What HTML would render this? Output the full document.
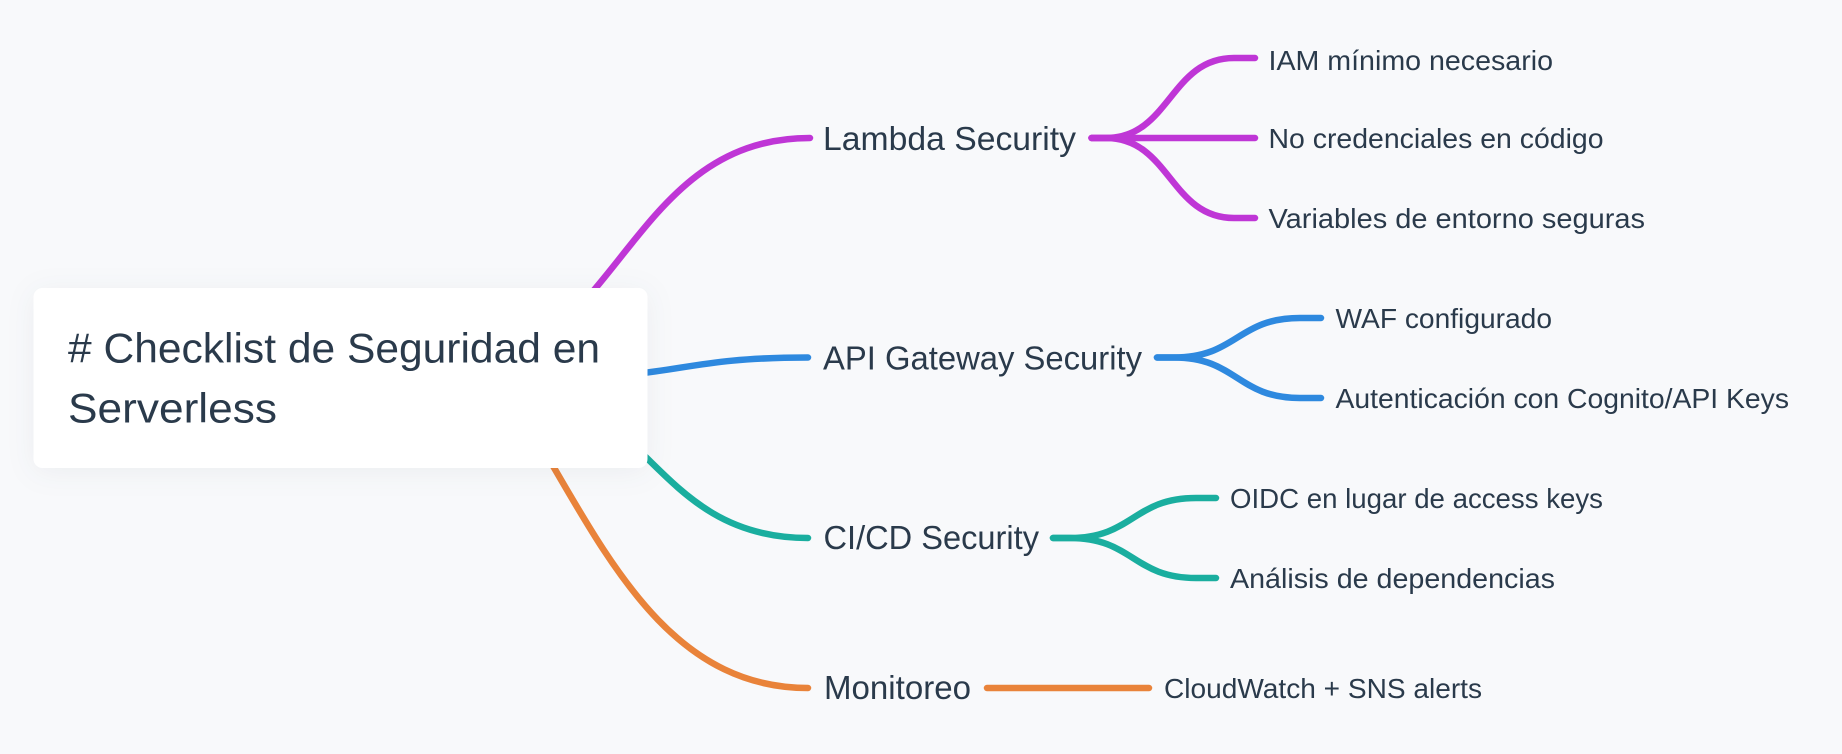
<!DOCTYPE html>
<html lang="es">
<head>
<meta charset="utf-8">
<title># Checklist de Seguridad en Serverless</title>
<style>
html,body{margin:0;padding:0;background:#f8f9fb;}
svg{display:block;}
text{font-family:"Liberation Sans","DejaVu Sans",sans-serif;fill:#2a3a4b;}
.l{fill:none;stroke-width:6.5;stroke-linecap:round;}
.m{font-size:33px;}
.s{font-size:28px;}
.r{font-size:42px;}
</style>
</head>
<body>
<svg width="1842" height="754" viewBox="0 0 1842 754" xmlns="http://www.w3.org/2000/svg">
<rect width="1842" height="754" fill="#f8f9fb"/>
<g stroke="#bf36d6">
<path class="l" d="M430 378C620 378 620 138 810 138"/>
<path class="l" d="M1091.500 138H1106C1170 138 1170 58 1234 58H1255"/>
<path class="l" d="M1091.500 138H1255"/>
<path class="l" d="M1091.500 138H1106C1170 138 1170 218 1234 218H1255"/>
</g>
<g stroke="#2e89df">
<path class="l" d="M551 378C680 378 680 357.500 808 357.500"/>
<path class="l" d="M1157 357.500H1174C1237 357.500 1237 318 1300 318H1321"/>
<path class="l" d="M1157 357.500H1174C1237 357.500 1237 398 1300 398H1321"/>
</g>
<g stroke="#1aae9f">
<path class="l" d="M484 378C647 378 647 538 808 538"/>
<path class="l" d="M1053 538H1070C1133 538 1133 498 1196 498H1216"/>
<path class="l" d="M1053 538H1070C1133 538 1133 578 1196 578H1216"/>
</g>
<g stroke="#e9833a">
<path class="l" d="M516 404C595.500 530.300 656.200 688 808 688"/>
<path class="l" d="M987 688H1149"/>
</g>
<rect x="33.500" y="288" width="614" height="180" rx="9" fill="#ffffff" style="filter:drop-shadow(0 4px 14px rgba(40,50,70,.06))"/>
<text class="r" x="68" y="362.500" textLength="532" lengthAdjust="spacingAndGlyphs"># Checklist de Seguridad en</text>
<text class="r" x="68" y="422.500" textLength="209" lengthAdjust="spacingAndGlyphs">Serverless</text>
<text class="m" x="823" y="150" textLength="253" lengthAdjust="spacingAndGlyphs">Lambda Security</text>
<text class="m" x="823" y="369.500" textLength="319" lengthAdjust="spacingAndGlyphs">API Gateway Security</text>
<text class="m" x="823.500" y="549" textLength="215.500" lengthAdjust="spacingAndGlyphs">CI/CD Security</text>
<text class="m" x="824" y="699" textLength="147" lengthAdjust="spacingAndGlyphs">Monitoreo</text>
<text class="s" x="1268.500" y="70" textLength="284.500" lengthAdjust="spacingAndGlyphs">IAM mínimo necesario</text>
<text class="s" x="1268.500" y="148" textLength="335" lengthAdjust="spacingAndGlyphs">No credenciales en código</text>
<text class="s" x="1268.500" y="228" textLength="376.500" lengthAdjust="spacingAndGlyphs">Variables de entorno seguras</text>
<text class="s" x="1335.500" y="328" textLength="216.500" lengthAdjust="spacingAndGlyphs">WAF configurado</text>
<text class="s" x="1335.500" y="408" textLength="453.500" lengthAdjust="spacingAndGlyphs">Autenticación con Cognito/API Keys</text>
<text class="s" x="1230" y="508" textLength="373" lengthAdjust="spacingAndGlyphs">OIDC en lugar de access keys</text>
<text class="s" x="1230" y="588" textLength="325" lengthAdjust="spacingAndGlyphs">Análisis de dependencias</text>
<text class="s" x="1164" y="698" textLength="318" lengthAdjust="spacingAndGlyphs">CloudWatch + SNS alerts</text>
</svg>
</body>
</html>
